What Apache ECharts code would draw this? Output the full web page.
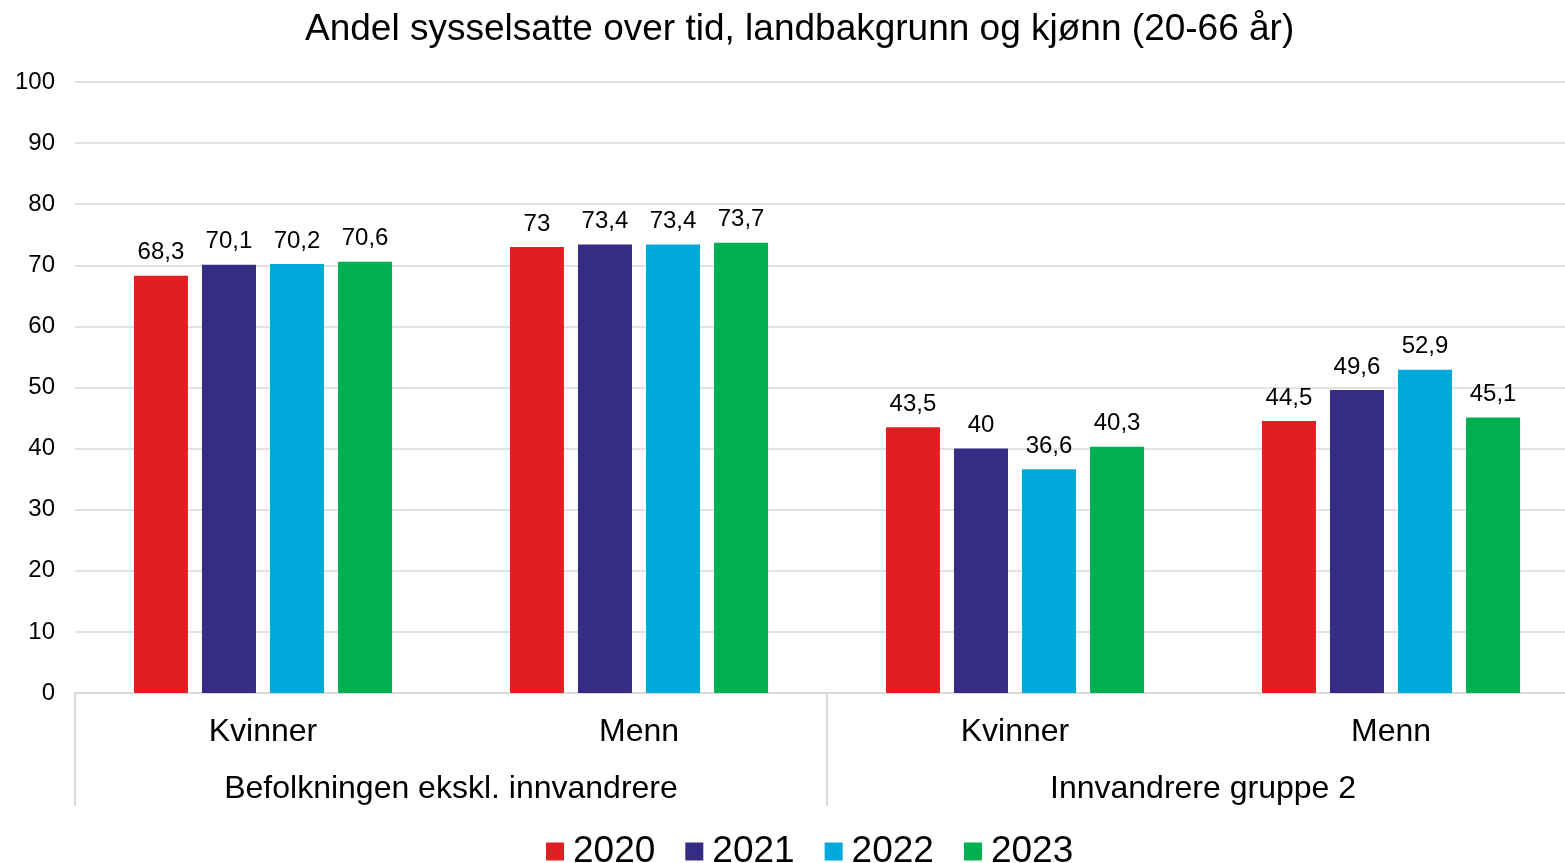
<!DOCTYPE html>
<html>
<head>
<meta charset="utf-8">
<script src="https://cdn.jsdelivr.net/npm/echarts@6/dist/echarts.min.js"></script>
<style>
html,body{margin:0;padding:0;background:#fff}
#chart{width:1565px;height:863px}
</style>
</head>
<body>
<div id="chart"></div>
<script>
// kategorier (kjønn) og grupper (landbakgrunn)
var kjonn = ['Kvinner', 'Menn', 'Kvinner ', 'Menn ']
var grupper = ['Befolkningen ekskl. innvandrere', 'Innvandrere gruppe 2']
var aar = ['2020', '2021', '2022', '2023']

// andel sysselsatte per år
var v2020 = [68.3, 73, 43.5, 44.5]
var v2021 = [70.1, 73.4, 40, 49.6]
var v2022 = [70.2, 73.4, 36.6, 52.9]
var v2023 = [70.6, 73.7, 40.3, 45.1]

var farger = ['#E02020', '#372C84', '#00A9DB', '#00AF50']
var fontFamily = 'Liberation Sans, Arial, sans-serif'

var chartDom = document.getElementById('chart')
var chart = echarts.init(chartDom)

function lagSerie (navn, data, i) {
    return {
        name: navn,
        type: 'bar',
        xAxisIndex: 0,
        data: data,
        barWidth: 54,
        barGap: '26%',
        itemStyle: { color: farger[i] },
        label: {
            show: true,
            position: 'top',
            distance: 11,
            color: '#000',
            fontSize: 24,
            fontFamily: fontFamily,
            formatter: function (p) {
                return String(p.value).replace('.', ',')
            }
        }
    }
}

var option = {
    backgroundColor: '#fff',
    animation: false,
    title: {
        text: 'Andel sysselsatte over tid, landbakgrunn og kjønn (20-66 år)',
        left: 300,
        top: 6,
        textStyle: { fontFamily: fontFamily, fontSize: 37, fontWeight: 'normal', color: '#000' }
    },
    legend: {
        data: aar,
        bottom: -12,
        left: 541,
        icon: 'rect',
        itemWidth: 18,
        itemHeight: 18,
        itemGap: 30,
        textStyle: { fontFamily: fontFamily, fontSize: 37, color: '#000', padding: [0, 0, 0, 4] }
    },
    grid: {
        left: 75,
        right: -14,
        top: 82,
        bottom: 170,
        outerBoundsMode: 'none'
    },
    xAxis: [
        {
            type: 'category',
            data: kjonn,
            axisLine: { show: true, lineStyle: { color: '#d9d9d9', width: 2 } },
            axisTick: { show: false },
            axisLabel: {
                color: '#000',
                fontSize: 32,
                fontFamily: fontFamily,
                margin: 23,
                formatter: function (v) { return v.trim() }
            }
        },
        {
            type: 'category',
            data: grupper,
            position: 'bottom',
            axisLine: { show: false },
            axisTick: { show: true, length: 113, lineStyle: { color: '#d9d9d9', width: 2 } },
            axisLabel: {
                color: '#000',
                fontSize: 32,
                fontFamily: fontFamily,
                margin: 80
            }
        }
    ],
    yAxis: {
        type: 'value',
        min: 0,
        max: 100,
        interval: 10,
        axisLine: { show: false },
        axisTick: { show: false },
        splitLine: { lineStyle: { color: '#d9d9d9', width: 1.5 } },
        axisLabel: { color: '#000', fontSize: 24, fontFamily: fontFamily, margin: 20 }
    },
    series: [
        lagSerie(aar[0], v2020, 0),
        lagSerie(aar[1], v2021, 1),
        lagSerie(aar[2], v2022, 2),
        lagSerie(aar[3], v2023, 3)
    ]
}

chart.setOption(option)

window.onresize = function () {
    chart.resize()
}
</script>
</body>
</html>
